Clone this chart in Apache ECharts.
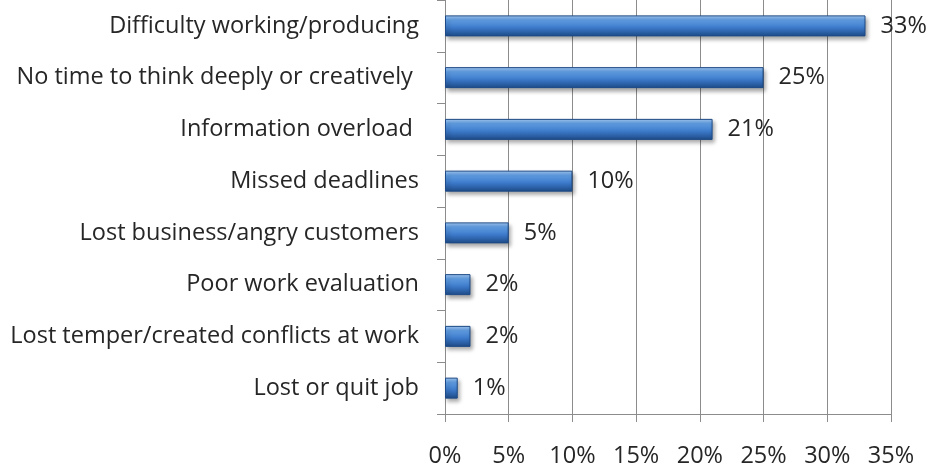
<!DOCTYPE html>
<html>
<head>
<meta charset="utf-8">
<script src="https://cdn.jsdelivr.net/npm/echarts@6/dist/echarts.min.js"></script>
<style>
  html, body { margin: 0; padding: 0; background: #fff; }
  #chart { width: 934px; height: 468px; }
</style>
</head>
<body>
<div id="chart"></div>
<script>
// Reported consequences of interruptions / information overload (% of respondents)
const categories = [
  'Difficulty working/producing',
  'No time to think deeply or creatively ',
  'Information overload ',
  'Missed deadlines',
  'Lost business/angry customers',
  'Poor work evaluation',
  'Lost temper/created conflicts at work',
  'Lost or quit job'
];
const values = [33, 25, 21, 10, 5, 2, 2, 1];
const xTicks = [0, 5, 10, 15, 20, 25, 30, 35];

const FONT = '"Open Sans", Lato, sans-serif';
const TEXT = '#262626';
const chart = echarts.init(document.getElementById('chart'));

const barFill = new echarts.graphic.LinearGradient(0, 0, 0, 1, [
  { offset: 0, color: '#a6cbf5' },
  { offset: 0.22, color: '#62a0e6' },
  { offset: 0.6, color: '#3b78c8' },
  { offset: 1, color: '#1d4a86' }
]);

chart.setOption({
  animation: false,
  grid: { left: 445, right: 43, top: -2, bottom: 54, containLabel: false },
  xAxis: {
    type: 'value',
    min: xTicks[0],
    max: xTicks[xTicks.length - 1],
    interval: 5,
    axisLine: { show: true, lineStyle: { color: '#8c8c8c', width: 1 } },
    axisTick: { show: true, length: 8, lineStyle: { color: '#8c8c8c' } },
    splitLine: { show: true, lineStyle: { color: '#8c8c8c', width: 1 } },
    axisLabel: {
      formatter: v => v + '%',
      color: TEXT,
      fontFamily: FONT,
      fontSize: 23.5,
      margin: 30
    }
  },
  yAxis: {
    type: 'category',
    inverse: true,
    data: categories,
    axisLine: { show: true, lineStyle: { color: '#8c8c8c', width: 1 } },
    axisTick: { show: true, length: 8, lineStyle: { color: '#8c8c8c' } },
    axisLabel: {
      color: TEXT,
      fontFamily: FONT,
      fontSize: 23.5,
      margin: 26,
      padding: [0, 0, 3, 0]
    }
  },
  series: [{
    type: 'bar',
    data: values,
    barWidth: 21,
    barCategoryGap: '60%',
    itemStyle: {
      color: barFill,
      borderColor: '#1d4a86',
      borderWidth: 1,
      shadowColor: 'rgba(0,0,0,0.35)',
      shadowBlur: 4,
      shadowOffsetX: 2,
      shadowOffsetY: 3
    },
    label: {
      show: true,
      position: 'right',
      distance: 15,
      formatter: p => p.value + '%',
      color: TEXT,
      fontFamily: FONT,
      fontSize: 23.5
    }
  }]
});
</script>
</body>
</html>
